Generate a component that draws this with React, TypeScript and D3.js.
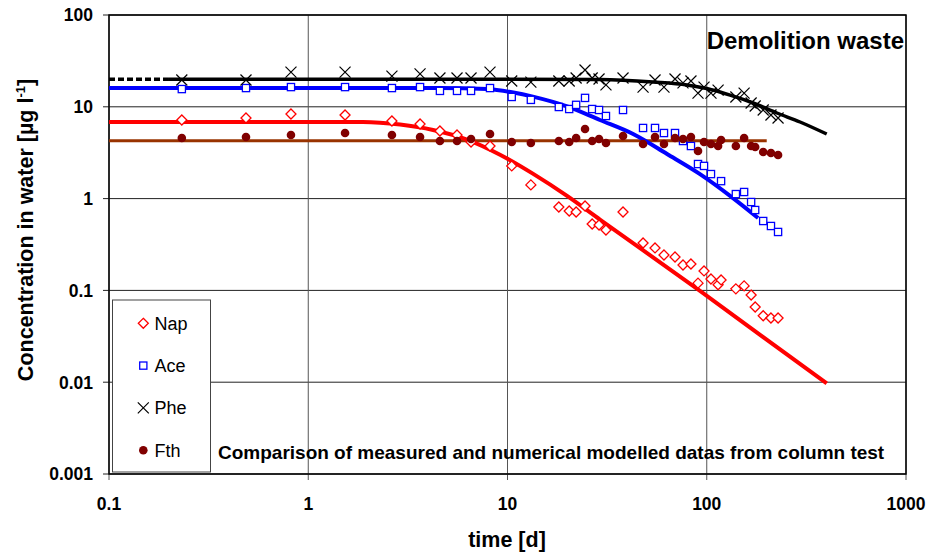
import React from "react";
import * as d3 from "d3";

// ---- data ----
const times = [0.232, 0.487, 0.819, 1.53, 2.63, 3.64, 4.58, 5.58, 6.56, 8.17, 10.5, 13.1, 18.1, 20.4, 22.1, 24.5, 26.6, 28.8, 31.2, 38.0, 47.9, 55.0, 61.0, 69.3, 76.0, 83.3, 90.4, 96.9, 105, 114, 118, 140, 154, 167, 175, 192, 210, 228];
const napMeasured = [7.18, 7.55, 8.35, 8.14, 7.0, 6.49, 5.45, 4.93, 4.14, 3.74, 2.27, 1.41, 0.81, 0.733, 0.714, 0.831, 0.529, 0.516, 0.455, 0.714, 0.328, 0.29, 0.243, 0.231, 0.189, 0.194, 0.12, 0.163, 0.133, 0.115, 0.13, 0.104, 0.112, 0.089, 0.066, 0.053, 0.05, 0.05];
const aceMeasured = [15.6, 16.0, 16.4, 16.4, 16.0, 16.4, 14.9, 14.9, 14.9, 16.0, 12.8, 11.9, 9.95, 9.46, 10.5, 12.5, 9.46, 9.23, 7.94, 9.23, 5.88, 5.88, 5.18, 5.18, 4.24, 3.74, 2.38, 2.27, 1.85, null, 1.55, 1.12, 1.18, 0.918, 0.751, 0.57, 0.503, 0.433];
const pheMeasured = [19.6, 19.6, 23.9, 23.9, 21.6, 22.8, 20.6, 20.6, 20.6, 23.9, 19.1, 18.6, 19.1, 19.1, 20.6, 25.2, 20.6, 20.1, 17.3, 20.6, 16.4, 19.6, 16.4, 20.1, 18.2, 19.1, 14.1, 16.4, 14.1, 15.2, null, 12.8, 14.1, 11.0, 10.2, 9.23, 8.14, 7.55];
const fthMeasured = [4.57, 4.69, 4.93, 5.18, 4.93, 4.69, 4.24, 4.24, 4.46, 5.05, 4.14, 4.03, 4.24, 4.14, 4.57, 5.73, 4.24, 4.46, 4.03, 4.81, 3.93, 4.69, 3.93, 4.57, 4.46, 4.69, 3.3, 4.14, 3.93, 3.74, 4.35, 3.74, 4.57, 3.74, 3.65, 3.22, 3.14, 2.99];

const napModelT = [0.1, 1.88, 2.89, 4.23, 6.26, 9.17, 13.4, 19.9, 29.1, 92.5, 400];
const napModelC = [6.83, 6.83, 6.4, 5.59, 4.4, 3.01, 1.87, 1.07, 0.592, 0.0986, 0.0097];
const aceModelT = [0.1, 4.58, 7.89, 10.7, 13.4, 19.9, 29.1, 42.7, 63.2, 92.5, 135, 181];
const aceModelC = [16.0, 16.0, 15.6, 14.3, 12.9, 10.1, 7.18, 5.05, 3.06, 1.85, 1.02, 0.615];
const pheModelT = [0.1, 0.2, 8.17, 29.1, 53.7, 79.6, 100, 131, 171, 225, 294, 400];
const pheModelC = [20, 20, 20, 19.8, 18.6, 17.3, 15.8, 13.4, 11.0, 8.56, 6.83, 5.05];
const pheDashedUntil = 0.2;
const fthModelT = [0.1, 200];
const fthModelC = [4.27, 4.27];

const xTicks = [0.1, 1, 10, 100, 1000];
const xTickLabels = ["0.1", "1", "10", "100", "1000"];
const yTicks = [0.001, 0.01, 0.1, 1, 10, 100];
const yTickLabels = ["0.001", "0.01", "0.1", "1", "10", "100"];
const legendNames = ["Nap", "Ace", "Phe", "Fth"];

const W = 927, H = 552;
const L = 109, R = 906, T = 15, B = 474;
const FONT = "'Liberation Sans', Arial, Helvetica, sans-serif";

const x = d3.scaleLog().domain([0.1, 1000]).range([L, R]);
const y = d3.scaleLog().domain([0.001, 100]).range([B, T]);

type P = [number, number];
const zip = (t: number[], c: (number | null)[]): P[] =>
  t.map((tt, i) => [tt, c[i]] as [number, number | null]).filter((p) => p[1] != null) as P[];

const lineGen = d3
  .line<P>()
  .x((d) => x(d[0]))
  .y((d) => y(d[1]))
  .curve(d3.curveMonotoneX);

function Diamond({ cx, cy }: { cx: number; cy: number }) {
  const r = 5;
  return <path d={`M${cx},${cy - r}L${cx + r},${cy}L${cx},${cy + r}L${cx - r},${cy}Z`} fill="white" stroke="#FF0000" strokeWidth={1.3} />;
}
function Square({ cx, cy }: { cx: number; cy: number }) {
  const s = 7.2;
  return <rect x={cx - s / 2} y={cy - s / 2} width={s} height={s} fill="white" stroke="#0000FF" strokeWidth={1.3} />;
}
function Cross({ cx, cy }: { cx: number; cy: number }) {
  const r = 5.5;
  return <path d={`M${cx - r},${cy - r}L${cx + r},${cy + r}M${cx - r},${cy + r}L${cx + r},${cy - r}`} stroke="#000" strokeWidth={1.2} fill="none" />;
}
function Dot({ cx, cy }: { cx: number; cy: number }) {
  return <circle cx={cx} cy={cy} r={4.3} fill="#800000" />;
}

const markerFor = [Diamond, Square, Cross, Dot];

export default function App() {
  const napPts = zip(times, napMeasured);
  const acePts = zip(times, aceMeasured);
  const phePts = zip(times, pheMeasured);
  const fthPts = zip(times, fthMeasured);

  const pheModel = zip(pheModelT, pheModelC);
  const pheDash = pheModel.filter((p) => p[0] <= pheDashedUntil);
  const pheSolid = pheModel.filter((p) => p[0] >= pheDashedUntil);

  return (
    <svg width={W} height={H} style={{ position: "absolute", left: 0, top: 0, background: "white" }} fontFamily={FONT}>
      <rect x={0} y={0} width={W} height={H} fill="white" />
      {/* grid */}
      {yTicks.map((v) => (
        <line key={"gy" + v} x1={L - 6} x2={R} y1={y(v)} y2={y(v)} stroke="#222" strokeWidth={1} />
      ))}
      {xTicks.map((v) => (
        <line key={"gx" + v} x1={x(v)} x2={x(v)} y1={T} y2={B + 6} stroke="#555" strokeWidth={1} />
      ))}
      <rect x={L} y={T} width={R - L} height={B - T} fill="none" stroke="#000" strokeWidth={1.5} />

      {/* model lines */}
      <path d={lineGen(zip(fthModelT, fthModelC)) || ""} fill="none" stroke="#993300" strokeWidth={3} />
      <path d={lineGen(zip(napModelT, napModelC)) || ""} fill="none" stroke="#FF0000" strokeWidth={4} />
      <path d={lineGen(zip(aceModelT, aceModelC)) || ""} fill="none" stroke="#0000FF" strokeWidth={4} />
      <path d={lineGen(pheDash) || ""} fill="none" stroke="#000" strokeWidth={3.5} strokeDasharray="6,3" />
      <path d={lineGen(pheSolid) || ""} fill="none" stroke="#000" strokeWidth={3.5} />

      {/* measured */}
      {napPts.map((p, i) => <Diamond key={"n" + i} cx={x(p[0])} cy={y(p[1])} />)}
      {acePts.map((p, i) => <Square key={"a" + i} cx={x(p[0])} cy={y(p[1])} />)}
      {phePts.map((p, i) => <Cross key={"p" + i} cx={x(p[0])} cy={y(p[1])} />)}
      {fthPts.map((p, i) => <Dot key={"f" + i} cx={x(p[0])} cy={y(p[1])} />)}

      {/* tick labels */}
      {yTicks.map((v, i) => (
        <text key={"yl" + v} x={93} y={y(v) + 6.3} textAnchor="end" fontSize={17.5} fontWeight="bold">
          {yTickLabels[i]}
        </text>
      ))}
      {xTicks.map((v, i) => (
        <text key={"xl" + v} x={x(v)} y={509.5} textAnchor="middle" fontSize={17.5} fontWeight="bold">
          {xTickLabels[i]}
        </text>
      ))}

      {/* axis titles */}
      <text x={507} y={547} textAnchor="middle" fontSize={21.5} fontWeight="bold">time [d]</text>
      <text transform="translate(33,230) rotate(-90)" textAnchor="middle" fontSize={21.5} fontWeight="bold">
        Concentration in water [µg l<tspan dy={-8} fontSize={13}>-1</tspan><tspan dy={8}>]</tspan>
      </text>

      {/* annotations */}
      <text x={904} y={49} textAnchor="end" fontSize={24} fontWeight="bold">Demolition waste</text>
      <text x={218} y={459} fontSize={19} fontWeight="bold">Comparison of measured and numerical modelled datas from column test</text>

      {/* legend */}
      <rect x={112.5} y={300} width={98} height={172} fill="white" stroke="#444" strokeWidth={1} />
      {legendNames.map((name, i) => {
        const M = markerFor[i];
        const cy = 323.3 + i * 42.3;
        return (
          <g key={name}>
            <M cx={143.3} cy={cy} />
            <text x={154.5} y={cy + 6.3} fontSize={18}>{name}</text>
          </g>
        );
      })}
    </svg>
  );
}
